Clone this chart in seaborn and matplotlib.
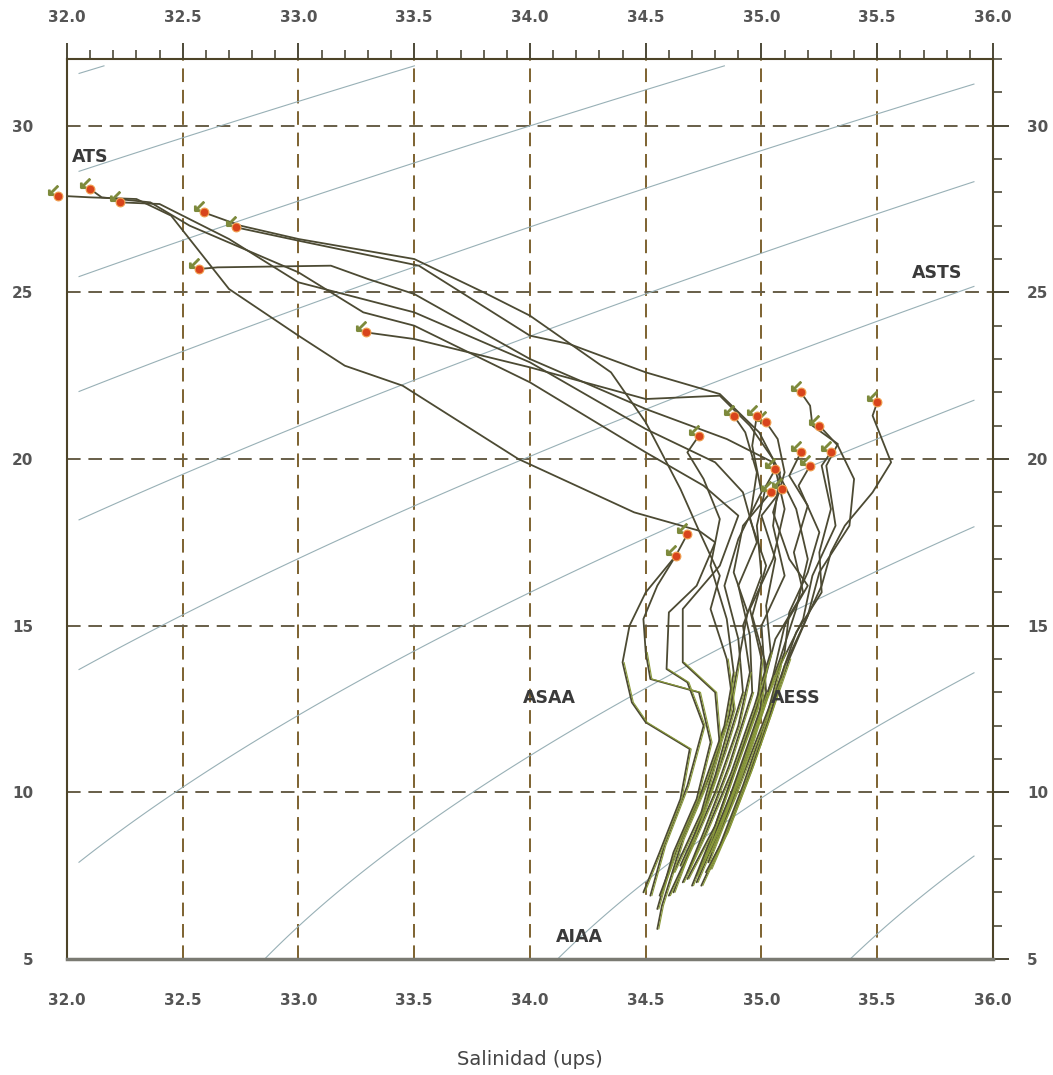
import numpy as np
import pandas as pd
import matplotlib
matplotlib.use('Agg')
import matplotlib.pyplot as plt
from matplotlib import ticker, transforms
import seaborn as sns

# T-S profiles (salinity in ups, temperature in degC), surface first
st01_s = [31.96, 32.10, 32.30, 32.45, 32.70, 33.00, 33.20, 33.45, 33.95, 34.45, 34.73, 34.80, 34.72, 34.60, 34.59, 34.68, 34.75, 34.68, 34.58, 34.52]
st01_t = [27.9, 27.85, 27.8, 27.3, 25.1, 23.7, 22.8, 22.2, 20.0, 18.4, 17.85, 17.5, 16.2, 15.4, 13.7, 13.3, 12.0, 10.2, 8.4, 6.9]
st02_s = [32.10, 32.15, 32.36, 32.53, 33.00, 33.28, 33.50, 34.00, 34.50, 34.75, 34.90, 34.82, 34.66, 34.66, 34.80, 34.82, 34.74, 34.62]
st02_t = [28.1, 27.85, 27.7, 27.0, 25.6, 24.4, 24.0, 22.3, 20.2, 19.2, 18.3, 16.8, 15.5, 13.9, 13.0, 11.4, 9.4, 7.6]
st03_s = [32.23, 32.40, 32.70, 33.00, 33.50, 34.00, 34.50, 34.80, 34.92, 34.98, 34.90, 34.95, 34.96, 34.86, 34.75, 34.68]
st03_t = [27.7, 27.65, 26.6, 25.3, 24.4, 22.9, 20.9, 19.9, 19.0, 17.5, 16.2, 14.7, 13.0, 10.8, 8.8, 7.6]
st04_s = [32.59, 32.75, 33.00, 33.50, 33.80, 34.00, 34.35, 34.50, 34.65, 34.73, 34.82, 34.78, 34.85, 34.88, 34.80, 34.70, 34.62]
st04_t = [27.4, 27.0, 26.6, 26.0, 25.0, 24.3, 22.6, 21.1, 19.1, 17.85, 16.5, 15.5, 14.0, 12.5, 10.5, 8.5, 7.0]
st05_s = [32.73, 33.00, 33.52, 34.00, 34.17, 34.50, 34.82, 34.99, 35.08, 35.05, 35.10, 35.00, 35.02, 34.92, 34.82, 34.72]
st05_t = [26.95, 26.55, 25.8, 23.7, 23.45, 22.6, 21.95, 20.8, 19.6, 18.0, 16.5, 15.0, 13.0, 11.0, 9.0, 7.5]
st06_s = [32.57, 32.65, 33.14, 33.30, 33.50, 34.00, 34.50, 34.85, 35.05, 35.15, 35.20, 35.15, 35.08, 35.00, 34.90, 34.80, 34.74]
st06_t = [25.7, 25.75, 25.8, 25.4, 24.95, 23.0, 21.5, 20.6, 19.9, 18.5, 17.0, 15.5, 14.0, 12.5, 10.5, 8.8, 7.8]
st07_s = [33.29, 33.50, 34.00, 34.50, 34.82, 34.95, 35.05, 35.10, 35.05, 34.95, 35.00, 34.98, 34.88, 34.78, 34.70]
st07_t = [23.8, 23.6, 22.75, 21.8, 21.9, 21.0, 20.0, 18.5, 17.0, 15.5, 14.0, 12.5, 10.6, 8.6, 7.2]
st08_s = [34.73, 34.68, 34.75, 34.82, 34.78, 34.85, 34.88, 34.84, 34.74, 34.64, 34.56]
st08_t = [20.7, 20.2, 19.4, 18.2, 16.8, 15.2, 13.6, 12.0, 10.0, 8.4, 6.9]
st09_s = [34.88, 34.93, 34.98, 34.95, 35.02, 34.96, 35.02, 34.99, 34.90, 34.80, 34.72]
st09_t = [21.3, 20.8, 19.6, 18.2, 16.8, 15.3, 13.8, 12.3, 10.4, 8.6, 7.3]
st10_s = [35.02, 35.07, 35.10, 35.05, 35.12, 35.20, 35.10, 35.05, 34.96, 34.86, 34.77]
st10_t = [21.1, 20.6, 19.6, 18.4, 17.0, 16.2, 15.0, 13.5, 11.5, 9.5, 7.9]
st11_s = [35.17, 35.21, 35.22, 35.33, 35.28, 35.32, 35.22, 35.18, 35.08, 35.02, 34.92, 34.82, 34.74]
st11_t = [22.0, 21.6, 21.0, 20.45, 19.8, 18.0, 16.5, 15.2, 13.8, 12.2, 10.2, 8.4, 7.2]
st12_s = [35.25, 35.33, 35.40, 35.38, 35.25, 35.20, 35.12, 35.04, 34.95, 34.85, 34.76]
st12_t = [21.0, 20.4, 19.4, 18.0, 16.6, 15.3, 14.0, 12.4, 10.6, 8.8, 7.6]
st13_s = [35.17, 35.12, 35.20, 35.14, 35.18, 35.06, 35.00, 34.90, 34.80, 34.68]
st13_t = [20.2, 19.5, 18.6, 17.2, 16.0, 14.6, 13.0, 11.0, 9.0, 7.4]
st14_s = [35.30, 35.26, 35.30, 35.25, 35.26, 35.15, 35.08, 34.98, 34.88, 34.78]
st14_t = [20.2, 19.8, 18.5, 17.2, 16.0, 14.8, 13.4, 11.6, 9.8, 8.2]
st15_s = [35.50, 35.48, 35.56, 35.48, 35.36, 35.30, 35.26, 35.18, 35.10, 35.04, 34.96, 34.86, 34.78]
st15_t = [21.7, 21.3, 19.9, 19.0, 18.0, 17.2, 16.2, 15.0, 13.8, 12.4, 10.8, 9.0, 7.7]
st16_s = [35.06, 35.02, 34.98, 35.00, 34.92, 34.95, 34.90, 34.80, 34.70, 34.60]
st16_t = [19.7, 19.2, 18.0, 16.5, 15.0, 13.6, 12.0, 10.0, 8.4, 6.9]
st17_s = [35.09, 35.00, 35.06, 35.02, 35.04, 34.97, 34.87, 34.76, 34.66]
st17_t = [19.1, 18.3, 17.0, 15.6, 14.2, 12.6, 10.6, 8.8, 7.3]
st18_s = [35.04, 34.92, 34.88, 34.94, 34.90, 34.86, 34.77, 34.66, 34.57, 34.55]
st18_t = [19.0, 18.0, 16.6, 15.4, 13.9, 12.3, 10.4, 8.6, 6.6, 5.9]
st19_s = [34.68, 34.63, 34.50, 34.43, 34.40, 34.44, 34.50, 34.69, 34.65, 34.56, 34.49]
st19_t = [17.75, 17.1, 16.0, 15.0, 13.9, 12.7, 12.1, 11.3, 9.8, 8.2, 7.0]
st20_s = [34.63, 34.55, 34.49, 34.50, 34.52, 34.73, 34.78, 34.72, 34.62, 34.55]
st20_t = [17.1, 16.2, 15.2, 14.2, 13.4, 13.0, 11.5, 9.8, 8.2, 6.5]
st21_s = [34.98, 34.96, 35.00, 34.90, 34.84, 34.90, 34.92, 34.84, 34.74, 34.65]
st21_t = [21.3, 20.4, 19.0, 17.6, 16.2, 14.6, 13.0, 11.2, 9.2, 7.8]
st22_s = [35.21, 35.16, 35.25, 35.20, 35.12, 35.10, 35.02, 34.94, 34.84, 34.75]
st22_t = [19.8, 19.2, 17.8, 16.6, 15.4, 14.2, 12.8, 11.2, 9.4, 8.0]

stations = [(st01_s, st01_t), (st02_s, st02_t), (st03_s, st03_t), (st04_s, st04_t),
            (st05_s, st05_t), (st06_s, st06_t), (st07_s, st07_t), (st08_s, st08_t),
            (st09_s, st09_t), (st10_s, st10_t), (st11_s, st11_t), (st12_s, st12_t),
            (st13_s, st13_t), (st14_s, st14_t), (st15_s, st15_t), (st16_s, st16_t),
            (st17_s, st17_t), (st18_s, st18_t), (st19_s, st19_t), (st20_s, st20_t),
            (st21_s, st21_t), (st22_s, st22_t)]

# isopycnal levels (sigma-t)
sigma_levels = [19, 20, 21, 22, 23, 24, 25, 26, 27, 28]

# water mass labels
mass_names = ['ATS', 'ASTS', 'ASAA', 'AESS', 'AIAA']
mass_sal = [32.02, 35.65, 33.97, 35.04, 34.11]
mass_tem = [29.07, 25.57, 12.84, 12.84, 5.66]


def sigma_t(s, t):
    # Knudsen / UNESCO sigma-t
    cl = s / 1.80655
    s0 = -0.069 + 1.4708 * cl - 1.570e-3 * cl**2 + 3.98e-5 * cl**3
    at = t * (4.7867 - 0.098185 * t + 1.0843e-3 * t**2) * 1e-3
    bt = t * (18.030 - 0.8164 * t + 0.01667 * t**2) * 1e-6
    st = -(t - 3.98)**2 / 503.570 * (t + 283) / (t + 67.26)
    return st + (s0 + 0.1324) * (1 - at + bt * (s0 - 0.1324))


rows = []
for i, (s, t) in enumerate(stations):
    for k in range(len(s)):
        rows.append((i, k, s[k], t[k]))
df = pd.DataFrame(rows, columns=['station', 'order', 'sal', 'tem'])
surf = df[df['order'] == 0]
deep = df[df['tem'] < 14.5]

sns.set_style('white')
plt.rcParams['font.family'] = ['DejaVu Sans']

fig = plt.figure(figsize=(10.53, 10.75), dpi=100)
ax = fig.add_axes([0.0636, 0.1079, 0.8794, 0.8372])

# isopycnals
sg, tg = np.meshgrid(np.linspace(32.05, 35.92, 300), np.linspace(5.0, 31.8, 300))
ax.contour(sg, tg, sigma_t(sg, tg), levels=sigma_levels, colors='#98b0b6',
           linewidths=0.8, zorder=1)

# profiles
sns.lineplot(data=df, x='sal', y='tem', units='station', estimator=None, sort=False,
             color='#4c4a33', linewidth=1.3, ax=ax, zorder=3, legend=False)
# greenish trace on the deep part
shift = transforms.offset_copy(ax.transData, fig=fig, x=1.5, y=0, units='dots')
for _, g in deep.groupby('station'):
    ax.plot(g['sal'], g['tem'], color='#8a9a3a', lw=0.8, transform=shift, zorder=3)

# surface markers
flag = transforms.offset_copy(ax.transData, fig=fig, x=-5, y=6, units='dots')
ax.plot(surf['sal'], surf['tem'], ls='none', marker=r'$\swarrow$', ms=7,
        color='#7d8a3c', transform=flag, zorder=4, clip_on=False)
sns.scatterplot(data=surf, x='sal', y='tem', s=40, color='#d8441c',
                edgecolor='#f0a050', linewidth=0.8, ax=ax, zorder=5, clip_on=False)

for name, s, t in zip(mass_names, mass_sal, mass_tem):
    ax.text(s, t, name, fontsize=12.5, fontweight='bold', color='#3a3a3a',
            ha='left', va='center', zorder=6)

ax.set_xlim(32, 36)
ax.set_ylim(5, 32)
ax.xaxis.set_major_locator(ticker.MultipleLocator(0.5))
ax.xaxis.set_minor_locator(ticker.MultipleLocator(0.1))
ax.xaxis.set_major_formatter(ticker.FormatStrFormatter('%.1f'))
ax.yaxis.set_major_locator(ticker.MultipleLocator(5))
ax.yaxis.set_minor_locator(ticker.MultipleLocator(1))

ax.xaxis.grid(True, color='#7d6230', ls=(0, (7, 4)), lw=1.4, zorder=2)
ax.yaxis.grid(True, color='#675e48', ls=(0, (7, 4)), lw=1.4, zorder=2)

ax.tick_params(axis='both', which='both', direction='out', colors='#3f3a28',
               top=True, right=True, labeltop=True, labelright=True,
               labelsize=11, labelcolor='#555555')
ax.tick_params(which='major', length=11.5, width=1.3, pad=13)
ax.tick_params(which='minor', length=6.5, width=1.1)
for lab in ax.xaxis.get_ticklabels(which='major') + ax.yaxis.get_ticklabels(which='major'):
    lab.set_fontweight('bold')

for sp in ax.spines.values():
    sp.set_color('#4d4428')
    sp.set_linewidth(1.5)
ax.spines['bottom'].set_color('#7a7a72')
ax.spines['bottom'].set_linewidth(2.5)

ax.set_xlabel('Salinidad (ups)', fontsize=14, color='#444444', labelpad=30)
ax.set_ylabel('')

fig.savefig('out.png', dpi=100)
